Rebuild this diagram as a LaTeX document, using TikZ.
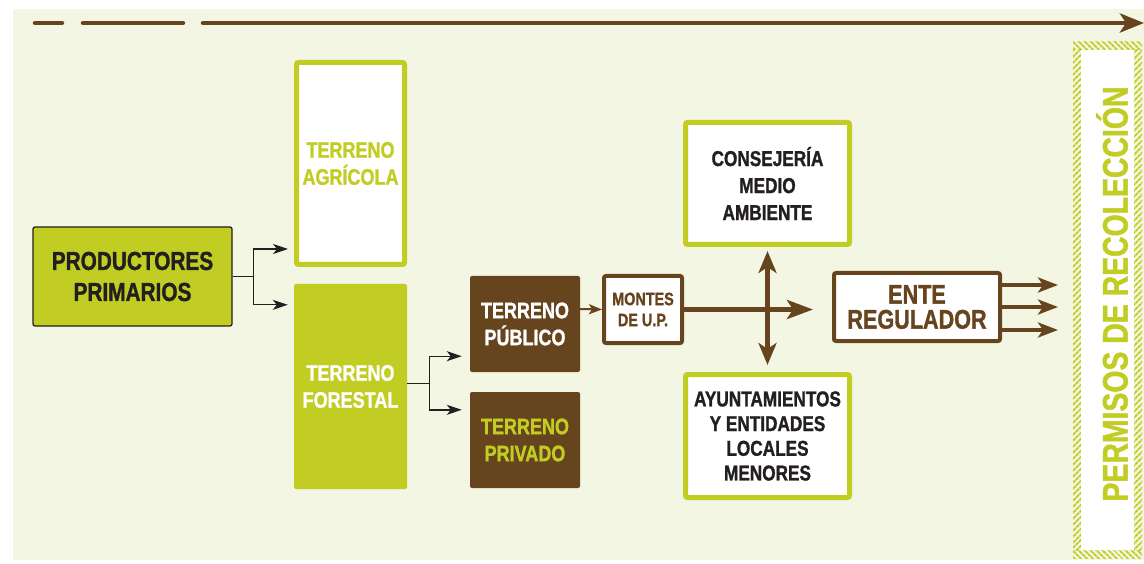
\documentclass[tikz,border=0pt]{standalone}
\usepackage{fontspec}
\usepackage{xcolor}
\usepackage{tikz}
\usetikzlibrary{arrows.meta, positioning, patterns.meta}

\newfontfamily\condfont{Liberation Sans Bold}[FakeStretch=0.8, FakeBold=1.2]

\definecolor{lime}{HTML}{C2CD23}
\definecolor{bark}{HTML}{66441E}
\definecolor{cream}{HTML}{F3F6E3}
\definecolor{ink}{HTML}{231F20}

\begin{document}
\begin{tikzpicture}[x=1pt, y=-1pt,
  box/.style={align=center, inner sep=0pt, rounded corners=2pt},
  greenbox/.style={box, draw=lime, line width=5pt, fill=white},
  brownbox/.style={box, draw=bark, line width=4pt, fill=white, text=bark},
  solidbox/.style={box, fill=bark},
  lbl/.style={font=\condfont\fontsize{22.5}{27}\selectfont},
  hatch/.style={pattern={Lines[angle=#1, distance=4pt, line width=2pt]}, pattern color=lime},
  blk/.style={-{Stealth[length=15pt, width=10pt, inset=4pt]}, line width=1.4pt, ink},
  brn/.style={-{Stealth[length=22pt, width=17pt, inset=6pt]}, line width=4.5pt, bark}]

  \useasboundingbox (0,0) rectangle (1144,564);
  \fill[cream] (13,9) rectangle (1144,560);

  % time line at the top
  \draw[brn, -, line cap=round] (35,23) -- (62,23);
  \draw[brn, -, line cap=round] (83,23) -- (183,23);
  \draw[brn, -{Stealth[length=24pt, width=19pt, inset=6pt]}, line cap=round] (203,23) -- (1144,23);

  % producers and land types
  \node[box, draw=ink, line width=1.2pt, fill=lime, text=ink,
        minimum width=199pt, minimum height=99pt,
        font=\condfont\fontsize{26}{31}\selectfont] (prod) at (132.5,276.5) {PRODUCTORES\\PRIMARIOS};
  \node[greenbox, lbl, text=lime, minimum width=108pt, minimum height=202pt] (agr) at (350.5,163.5) {TERRENO\\AGRÍCOLA};
  \node[box, fill=lime, lbl, text=white, minimum width=113pt, minimum height=205pt] (forest) at (350.5,386.5) {TERRENO\\FORESTAL};
  \node[solidbox, lbl, text=white, minimum width=110pt, minimum height=96pt] (pub) at (525,324) {TERRENO\\PÚBLICO};
  \node[solidbox, lbl, text=lime, minimum width=110pt, minimum height=96pt] (priv) at (525,440) {TERRENO\\PRIVADO};

  % public land and its agents
  \node[brownbox, font=\condfont\fontsize{18}{21}\selectfont, minimum width=78pt, minimum height=67pt] (montes) at (643,309.5) {MONTES\\DE U.P.};
  \node[greenbox, text=ink, font=\condfont\fontsize{21.5}{27}\selectfont, minimum width=164pt, minimum height=122pt] (cons) at (767.5,183.5) {CONSEJERÍA\\MEDIO\\AMBIENTE};
  \node[greenbox, text=ink, font=\condfont\fontsize{21.5}{24.7}\selectfont, minimum width=164pt, minimum height=123pt] (ayun) at (767.5,436) {AYUNTAMIENTOS\\Y ENTIDADES\\LOCALES\\MENORES};
  \node[brownbox, font=\condfont\fontsize{27}{25}\selectfont, minimum width=166pt, minimum height=68pt] (ente) at (917,307) {ENTE\\REGULADOR};

  % permits frame (hatched border)
  \fill[hatch=-45] (1073,42) rectangle (1142,50);
  \fill[hatch=-45] (1073,550) rectangle (1142,558);
  \fill[hatch=45] (1073,50) rectangle (1081,550);
  \fill[hatch=45] (1134,50) rectangle (1142,550);
  \fill[white] (1081,50) rectangle (1134,550);
  \node[rotate=90, text=lime, font=\condfont\fontsize{35.5}{40}\selectfont] (perm) at (1112,294) {PERMISOS DE RECOLECCIÓN};

  % connectors
  \draw[blk] (prod.east) -- ++(21,0) |- ([xshift=-6pt, yshift=18pt]agr.south west);
  \draw[blk] (prod.east) -- ++(21,0) |- ([xshift=-6pt, yshift=-21pt]forest.north west);
  \draw[blk] ([yshift=3pt]forest.east) -- ++(22,0) |- ([xshift=-8pt, yshift=16pt]pub.south west);
  \draw[blk] ([yshift=3pt]forest.east) -- ++(22,0) |- ([xshift=-8pt, yshift=-18pt]priv.north west);
  \draw[-{Stealth[length=13pt, width=10pt, inset=3pt]}, line width=2pt, bark] ([yshift=15pt]pub.east) -- (montes.west);
  \draw[brn, -{Stealth[length=26pt, width=19pt, inset=6pt]}] (montes.east) -- ++(129,0);
  \draw[brn, {Stealth[length=22pt, width=18pt, inset=6pt]}-{Stealth[length=22pt, width=18pt, inset=6pt]},
        shorten <=4pt, shorten >=7pt] (cons.south) -- (ayun.north);
  \foreach \dy in {22,0,-23}
    \draw[brn, line width=3.5pt, -{Stealth[length=20pt, width=15pt, inset=5pt]}] ([yshift=\dy pt]ente.east) -- ++(56,0);
\end{tikzpicture}
\end{document}
